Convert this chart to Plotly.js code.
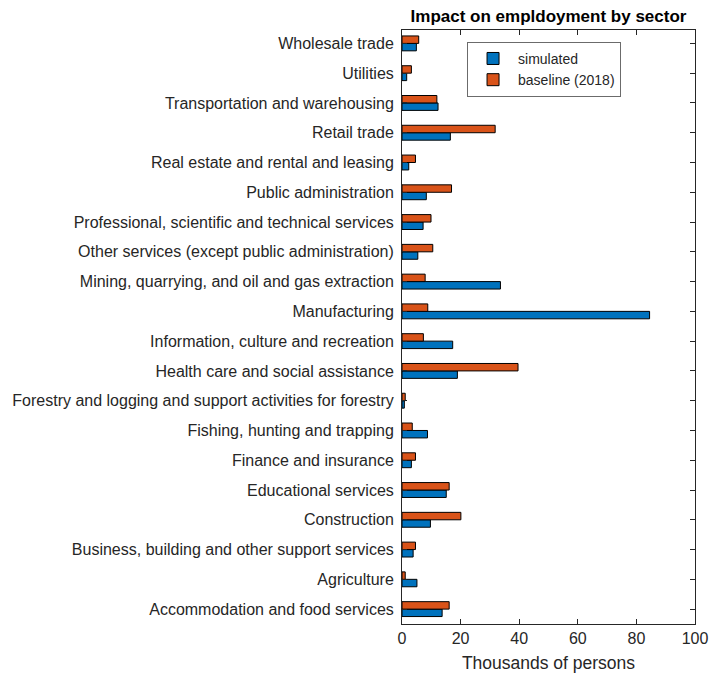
<!DOCTYPE html>
<html>
<head>
<meta charset="utf-8">
<script src="https://cdn.plot.ly/plotly-3.0.1.min.js"></script>
<style>html,body{margin:0;padding:0;background:#fff;}#chart{width:710px;height:677px;}</style>
</head>
<body>
<div id="chart"></div>
<script>
const sectors = [
  "Accommodation and food services",
  "Agriculture",
  "Business, building and other support services",
  "Construction",
  "Educational services",
  "Finance and insurance",
  "Fishing, hunting and trapping",
  "Forestry and logging and support activities for forestry",
  "Health care and social assistance",
  "Information, culture and recreation",
  "Manufacturing",
  "Mining, quarrying, and oil and gas extraction",
  "Other services (except public administration)",
  "Professional, scientific and technical services",
  "Public administration",
  "Real estate and rental and leasing",
  "Retail trade",
  "Transportation and warehousing",
  "Utilities",
  "Wholesale trade"
];
const simulated = [13.7, 5.1, 3.8, 9.7, 15.1, 3.2, 8.7, 0.8, 18.9, 17.3, 84.5, 33.6, 5.4, 7.2, 8.3, 2.3, 16.5, 12.3, 1.6, 4.9];
const baseline  = [16.1, 1.1, 4.6, 20.1, 16.1, 4.6, 3.5, 1.1, 39.6, 7.3, 8.8, 7.9, 10.5, 9.9, 16.9, 4.6, 31.8, 11.9, 3.2, 5.7];
const xTicks = [0, 20, 40, 60, 80, 100];

const txt = '#262626';
const traces = [
  {type:'bar', orientation:'h', name:'simulated', y:sectors, x:simulated,
   marker:{color:'#0072BD', line:{color:'#000', width:1}}},
  {type:'bar', orientation:'h', name:'baseline (2018)', y:sectors, x:baseline,
   marker:{color:'#D95319', line:{color:'#000', width:1}}}
];
const layout = {
  width:710, height:677,
  margin:{l:402, r:15, t:30, b:53},
  paper_bgcolor:'#fff', plot_bgcolor:'#fff',
  font:{family:'Liberation Sans, Arial, sans-serif', color:txt, size:14},
  title:{text:'<b>Impact on empldoyment by sector</b>', x:0.5, xref:'paper', xanchor:'center',
         y:0.976, yanchor:'middle', font:{size:17, color:'#000'}},
  barmode:'group', bargap:0.5, bargroupgap:0,
  showlegend:true,
  legend:{x:0.222, y:0.98, xanchor:'left', yanchor:'top', traceorder:'normal',
          bgcolor:'#fff', bordercolor:'#6b6b6b', borderwidth:1, font:{size:14, color:txt},
          itemwidth:40, tracegroupgap:0},
  xaxis:{range:[0,100], tickvals:xTicks, ticktext:xTicks.map(String), ticks:'inside', ticklen:5,
         tickcolor:txt, showline:true, linecolor:txt, linewidth:1, mirror:'allticks',
         showgrid:false, zeroline:false, tickfont:{size:16, color:txt},
         title:{text:'Thousands of persons', font:{size:17.5, color:txt}, standoff:10}},
  yaxis:{type:'category', range:[-0.5, 19.45], ticks:'inside', ticklen:5, tickcolor:txt,
         showline:true, linecolor:txt, linewidth:1, mirror:'allticks', showgrid:false,
         zeroline:false, tickfont:{size:16, color:txt}, ticklabelstandoff:4}
};
Plotly.newPlot('chart', traces, layout, {staticPlot:true, displayModeBar:false});
</script>
</body>
</html>
